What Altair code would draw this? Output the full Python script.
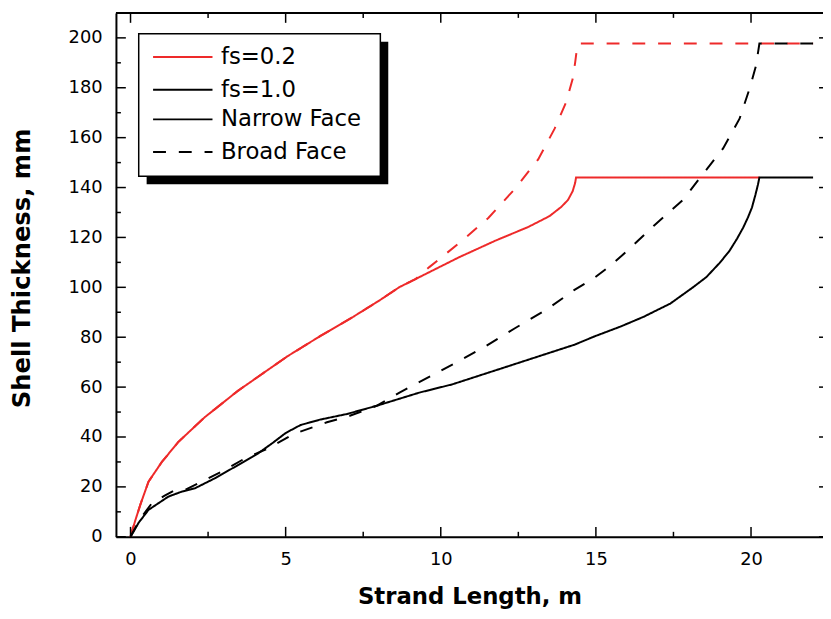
import altair as alt
import pandas as pd

# ---------------- data ----------------
FS_LEVELS = ["fs=0.2", "fs=1.0"]
FACE_LEVELS = ["Narrow Face", "Broad Face"]

# fs=0.2, narrow face
R_N_X = [0, 0.08, 0.16, 0.32, 0.58, 1.01, 1.54, 2.39, 3.46, 5.05, 6.12, 7.18, 8.03, 8.67, 9.2,
         10.58, 11.76, 12.82, 13.5, 13.88, 14.1, 14.25, 14.33, 14.36, 20.27]
R_N_Y = [0, 3.5, 6.8, 13.0, 22.1, 30.0, 38.0, 47.9, 58.5, 72.3, 80.5, 88.2, 94.8, 100.1, 103.4,
         112.0, 118.7, 124.2, 128.5, 132.2, 135.0, 138.5, 141.8, 144.0, 144.0]

# fs=0.2, broad face
R_B_X = [0, 0.08, 0.16, 0.32, 0.58, 1.01, 1.54, 2.39, 3.46, 5.05, 6.12, 7.18, 8.03, 8.67, 9.2,
         9.63, 10.69, 11.54, 12.39, 13.14, 13.67, 14.04, 14.25, 14.33, 14.41, 22.0]
R_B_Y = [0, 3.5, 6.8, 13.0, 22.1, 30.0, 38.0, 47.9, 58.5, 72.3, 80.5, 88.2, 94.8, 100.1, 103.4,
         108.1, 118.7, 127.9, 139.5, 151.3, 163.6, 174.2, 183.5, 190.0, 197.7, 197.7]

# fs=1.0, narrow face
K_N_X = [0, 0.26, 0.58, 1.22, 1.65, 2.07, 2.71, 3.46, 4.1, 4.6, 5.0, 5.48, 6.12, 6.97,
         7.93, 9.31, 10.37, 12.18, 14.31, 14.95, 15.8, 16.54, 17.4, 18.14, 18.56, 18.99,
         19.3, 19.55, 19.75, 19.9, 20.03, 20.14, 20.22, 20.27, 22.0]
K_N_Y = [0, 5.6, 10.8, 16.1, 18.1, 19.4, 23.4, 28.7, 33.3, 37.8, 41.6, 44.8, 47.0, 49.2,
         52.5, 57.8, 61.1, 68.4, 77.0, 80.3, 84.3, 88.2, 93.5, 100.1, 104.1, 109.8,
         114.5, 119.5, 124.0, 128.0, 132.0, 137.0, 141.0, 144.0, 144.0]

# fs=1.0, broad face
K_B_X = [0, 0.3, 0.69, 1.1, 1.44, 1.76, 2.18, 3.0, 3.67, 4.41, 5.27, 6.33, 7.07, 7.93,
         8.67, 9.84, 10.58, 11.44, 12.39, 13.4, 14.31, 14.95, 15.5, 16.0, 16.86, 17.82, 18.35,
         19.1, 19.63, 19.95, 20.16, 20.27, 22.0]
K_B_Y = [0, 7.0, 13.5, 16.5, 18.8, 18.8, 21.4, 26.5, 31.3, 35.3, 41.3, 45.9, 48.5, 52.5,
         57.8, 65.5, 70.4, 76.3, 83.6, 91.0, 99.0, 103.8, 109.0, 114.5, 124.6, 135.2, 143.8,
         155.7, 167.6, 179.5, 188.8, 197.7, 197.7]

X_MAJOR = [0, 5, 10, 15, 20]
X_MINOR = [2.5, 7.5, 12.5, 17.5]
Y_MAJOR = [0, 20, 40, 60, 80, 100, 120, 140, 160, 180, 200]
Y_MINOR = [10, 30, 50, 70, 90, 110, 130, 150, 170, 190]

# ---------------- build table ----------------
rows = []
for fs, face, xs, ys in [
    (FS_LEVELS[0], FACE_LEVELS[0], R_N_X, R_N_Y),
    (FS_LEVELS[0], FACE_LEVELS[1], R_B_X, R_B_Y),
    (FS_LEVELS[1], FACE_LEVELS[0], K_N_X, K_N_Y),
    (FS_LEVELS[1], FACE_LEVELS[1], K_B_X, K_B_Y),
]:
    for x, y in zip(xs, ys):
        rows.append({"x": x, "y": y, "fs": fs, "face": face})
df = pd.DataFrame(rows)

W, H = 714, 529
FONT = "DejaVu Sans"
RED = "#ee2a2a"

xscale = alt.Scale(domain=[-0.47, 22.32], nice=False, zero=False)
yscale = alt.Scale(domain=[0, 210], nice=False, zero=False)

x_axis = alt.Axis(
    values=X_MAJOR, format="d", grid=False, ticks=False, tickSize=0,
    domain=True, domainColor="black", domainWidth=2,
    labelFont=FONT, labelFontSize=18, labelColor="black", labelPadding=14,
    labelFlush=False, labelOverlap=False,
    title="Strand Length, m", titleFont=FONT, titleFontSize=23, titleFontWeight="bold",
    titleColor="black", titleBaseline="alphabetic", titleY=67,
)
y_axis = alt.Axis(
    values=Y_MAJOR, format="d", grid=False, ticks=False, tickSize=0,
    domain=True, domainColor="black", domainWidth=2,
    labelFont=FONT, labelFontSize=18, labelColor="black", labelPadding=14,
    labelFlush=False, labelOverlap=False,
    title="Shell Thickness, mm", titleFont=FONT, titleFontSize=24.5, titleFontWeight="bold",
    titleColor="black", titleBaseline="alphabetic", titleAlign="center", titleAngle=270,
    titleX=-87, titleY=257.5,
)

# legend symbol: a 60px line drawn from a small nominal symbol size
leg_common = dict(
    title=None, orient="none", legendX=31, symbolType="M-1,0H11", symbolSize=100,
    symbolStrokeWidth=2, labelFont=FONT, labelFontSize=23, labelColor="black",
    labelOffset=52, rowPadding=9, padding=0,
)

lines = alt.Chart(df).mark_line(strokeWidth=2, clip=True).encode(
    x=alt.X("x:Q", scale=xscale, axis=x_axis),
    y=alt.Y("y:Q", scale=yscale, axis=y_axis),
    color=alt.Color("fs:N", scale=alt.Scale(domain=FS_LEVELS, range=[RED, "#000000"]),
                    legend=alt.Legend(legendY=33, **leg_common)),
    strokeDash=alt.StrokeDash("face:N", scale=alt.Scale(domain=FACE_LEVELS, range=[[1, 0], [13, 13]]),
                              legend=alt.Legend(legendY=96, symbolStrokeColor="black", **leg_common)),
)

one = pd.DataFrame({"k": [0]})
shadow = alt.Chart(one).mark_rect(color="black").encode(
    x=alt.value(31), x2=alt.value(275), y=alt.value(29), y2=alt.value(173))
box = alt.Chart(one).mark_rect(fill="white", stroke="black", strokeWidth=1.5).encode(
    x=alt.value(23), x2=alt.value(267), y=alt.value(21), y2=alt.value(165))


def xticks(vals, length, top):
    y0, y1 = (0, length) if top else (H, H - length)
    return alt.Chart(pd.DataFrame({"v": vals})).mark_rule(color="black", strokeWidth=1.5).encode(
        x=alt.X("v:Q", scale=xscale, axis=x_axis), y=alt.value(y0), y2=alt.value(y1))


def yticks(vals, x0, x1):
    return alt.Chart(pd.DataFrame({"v": vals})).mark_rule(color="black", strokeWidth=1.5).encode(
        y=alt.Y("v:Q", scale=yscale, axis=y_axis), x=alt.value(x0), x2=alt.value(x1))


top_frame = alt.Chart(one).mark_rule(color="black", strokeWidth=2).encode(
    x=alt.value(0), x2=alt.value(W), y=alt.value(0))

chart = alt.layer(
    shadow, box, lines,
    xticks(X_MAJOR, 10, False), xticks(X_MINOR, 5, False),
    xticks(X_MAJOR, 10, True), xticks(X_MINOR, 5, True),
    yticks(Y_MAJOR, 0, 10), yticks(Y_MINOR, 0, 5),
    yticks(Y_MAJOR, W - 4, W),
    top_frame,
).properties(
    width=W, height=H,
    padding={"left": 109, "top": 2, "right": 0, "bottom": 75},
    autosize=alt.AutoSizeParams(type="none"),
).configure_view(stroke=None).configure(font=FONT, background="white")

chart.save("out.html", embed_options={"renderer": "svg", "actions": False})
